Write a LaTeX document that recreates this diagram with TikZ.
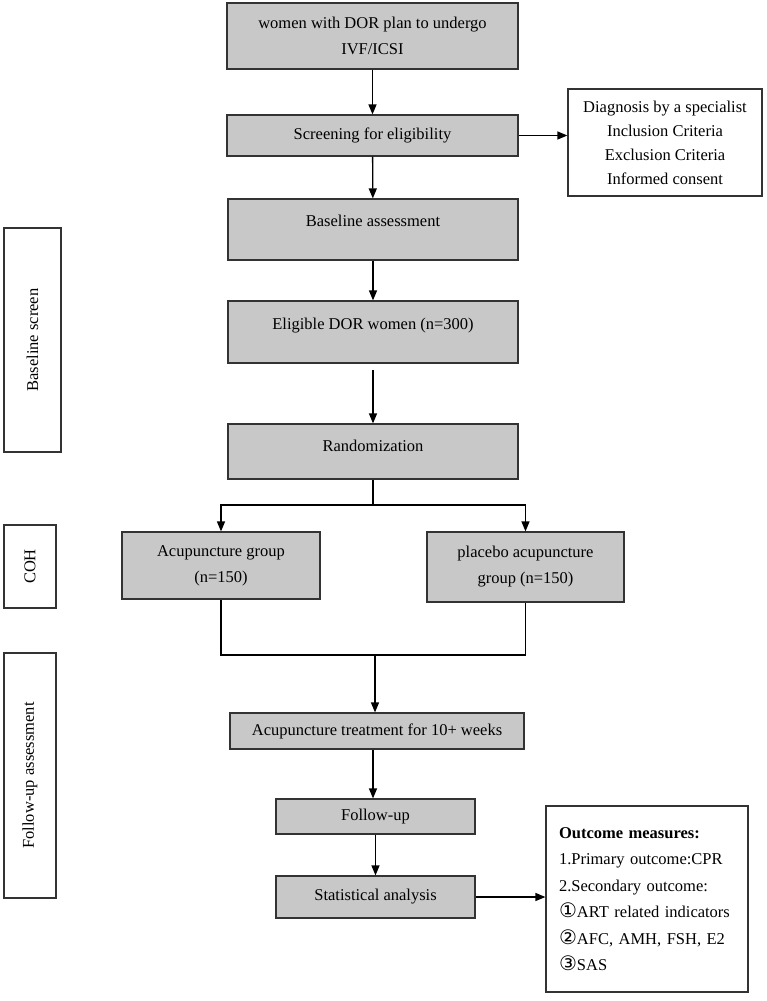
\documentclass[tikz,border=0pt]{standalone}
\usepackage{fontspec}
\setmainfont{Liberation Serif}
\newfontfamily\circfont{DejaVu Sans}
\usetikzlibrary{arrows.meta}
\newcommand{\circnum}[1]{{\circfont\fontsize{20}{26.5}\selectfont #1}}
\begin{document}
\begin{tikzpicture}[x=1pt,y=-1pt,
  every node/.style={font=\fontsize{16.5}{26}\selectfont},
  box/.style={draw=black!80, line width=1.2pt, fill=boxgray, inner sep=0pt, align=center},
  plain/.style={draw=black!80, line width=1.2pt, fill=white, inner sep=0pt, align=center},
  side/.style={draw=black!80, line width=1.2pt, fill=white, inner sep=0pt},
  link/.style={line width=1.3pt, draw=black},
  arr/.style={link, -{Triangle[length=10pt,width=8pt]}}]
\definecolor{boxgray}{RGB}{200,200,200}
\useasboundingbox (0,0) rectangle (767,1001);

% main column
\node[box, minimum width=291pt, minimum height=66pt] (start) at (372.5,36) {women with DOR plan to undergo\\IVF/ICSI};
\node[box, minimum width=291pt, minimum height=41pt] (screen) at (372.5,135.5) {Screening for eligibility};
\node[box, minimum width=290pt, text height=27pt, text depth=34pt] (base) at (373,229.5) {Baseline assessment};
\node[box, minimum width=290pt, text height=28pt, text depth=34pt] (elig) at (373,332) {Eligible DOR women (n=300)};
\node[box, minimum width=290pt, text height=27pt, text depth=28pt] (rand) at (373,451.5) {Randomization};
\node[box, minimum width=198pt, minimum height=67pt] (acu) at (221,565.5) {Acupuncture group\\(n=150)};
\node[box, minimum width=197pt, minimum height=70pt] (plac) at (525.5,567) {placebo acupuncture\\group (n=150)};
\node[box, minimum width=294pt, minimum height=36pt] (treat) at (377,731) {Acupuncture treatment for 10+ weeks};
\node[box, minimum width=199pt, minimum height=35pt] (fup) at (375.5,816.5) {Follow-up};
\node[box, minimum width=199pt, minimum height=42pt] (stat) at (375.5,897) {Statistical analysis};

% side information boxes
\node[plain, minimum width=194pt, minimum height=107pt, font=\fontsize{16.5}{24}\selectfont] (crit) at (665,142.5)
  {Diagnosis by a specialist\\Inclusion Criteria\\Exclusion Criteria\\Informed consent};
\node[plain, minimum width=202pt, minimum height=186pt, align=left, text width=176pt, font=\fontsize{16.5}{26.5}\selectfont] (outc) at (647,899)
  {\textbf{Outcome measures:}\\1.Primary outcome:CPR\\2.Secondary outcome:\\\circnum{①}ART related indicators\\\circnum{②}AFC, AMH, FSH, E2\\\circnum{③}SAS\\[10pt]};

% phase labels on the left
\node[side, minimum width=224pt, minimum height=57pt, rotate=90] (ph1) at (32.5,340) {Baseline screen};
\node[side, minimum width=83pt, minimum height=52pt, rotate=90] (ph2) at (30,566.5) {COH};
\node[side, minimum width=245pt, minimum height=52pt, rotate=90] (ph3) at (30,775.5) {Follow-up assessment};

% connectors
\coordinate (split) at (373,505);
\coordinate (merge) at (375,655);
\draw[arr] (start) -- (screen);
\draw[arr] (screen) -- (base);
\draw[arr] (screen.east) -- (crit.west |- screen.east);
\draw[arr] (base) -- (elig);
\draw[arr, shorten <=6pt] (elig) -- (rand);
\draw[link] (rand.south) -- (split);
\draw[arr] (split) -| (acu.north);
\draw[arr] (split) -| (plac.north);
\draw[link] (acu.south) |- (merge);
\draw[link] (plac.south) |- (merge);
\draw[arr] (merge) -- (merge |- treat.north);
\draw[arr] (treat.south -| 373,0) -- (fup.north -| 373,0);
\draw[arr] (fup) -- (stat);
\draw[arr] (stat.east) -- (outc.west |- stat.east);
\end{tikzpicture}
\end{document}
